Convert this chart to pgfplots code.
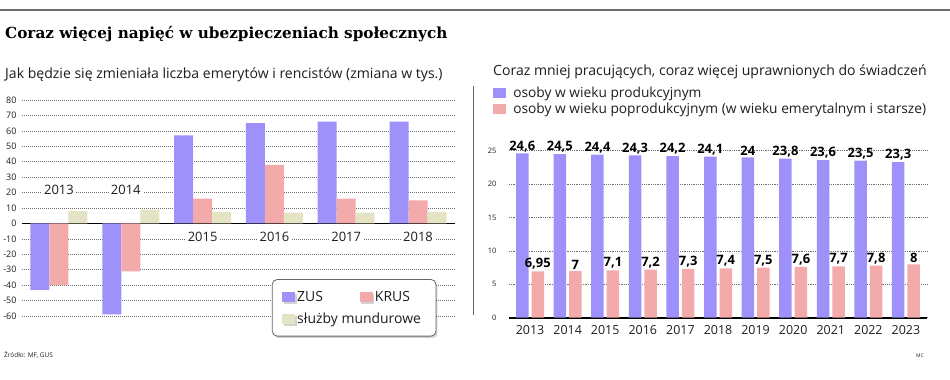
\documentclass[border=0pt]{standalone}
\usepackage{fontspec}
\setmainfont{Open Sans}
\newfontfamily\titlefont{DejaVu Serif}
\usepackage{pgfplots}
\pgfplotsset{compat=1.18}
\usetikzlibrary{shadows}
\definecolor{zus}{RGB}{158,146,250}
\definecolor{krus}{RGB}{243,170,171}
\definecolor{mund}{RGB}{228,227,196}
\definecolor{gridc}{RGB}{110,110,110}
\definecolor{txt}{RGB}{30,30,30}
\pgfplotsset{/pgfplots/ybar legend/.style={/pgfplots/legend image code/.code={\fill[##1,draw=none,sharp corners] (0bp,-5bp) rectangle (13bp,5bp);}}}
\begin{document}
\begin{tikzpicture}
\path[use as bounding box] (0bp,0bp) rectangle (950bp,-380bp);
\draw[gray!85!black, line width=1.3bp] (0bp,-10bp) -- (950bp,-10bp);
\draw[gray!80!black, line width=1bp] (473bp,-86bp) -- (473bp,-315bp);
\node[anchor=base west, inner sep=0, text=black, font=\titlefont\bfseries\fontsize{15.3}{18}\selectfont] at (5bp,-38bp) {Coraz więcej napięć w ubezpieczeniach społecznych};
\node[anchor=base west, inner sep=0, text=txt, font=\fontsize{14.1}{16}\selectfont] at (5bp,-78bp) {Jak będzie się zmieniała liczba emerytów i rencistów (zmiana w tys.)};
\node[anchor=base west, inner sep=0, text=txt, font=\fontsize{14.1}{16}\selectfont] at (493bp,-75bp) {Coraz mniej pracujących, coraz więcej uprawnionych do świadczeń};

% left chart
\begin{axis}[
  at={(22bp,-316bp)}, anchor=south west,
  scale only axis, width=433bp, height=216bp,
  xmin=-0.515, xmax=5.515, ymin=-60, ymax=80,
  ybar=0bp, bar width=19bp,
  axis line style={draw=none}, tick style={draw=none},
  xtick=\empty,
  ytick={-60,-50,...,80},
  ymajorgrids,
  grid style={gridc, line width=0.6bp, dash pattern=on 0.8bp off 1.2bp},
  extra y ticks={0}, extra y tick labels={},
  extra y tick style={grid style={black, solid, line width=1.3bp}},
  yticklabel style={font=\fontsize{9}{10}\selectfont, text=txt, xshift=-2bp},
  /pgf/number format/assume math mode=true,
  clip=false,
  legend columns=2,
  legend cell align=left,
  legend style={at={(rel axis cs:0.577,0.171)}, anchor=north west,
    draw=gray!80!black, line width=0.8bp, rounded corners=5bp, fill=white,
    drop shadow={shadow xshift=1.5bp, shadow yshift=-2bp, opacity=0.35},
    font=\fontsize{14}{16}\selectfont, text=txt,
    inner xsep=10bp, inner ysep=9.5bp, row sep=6bp,
    /tikz/every even column/.append style={column sep=35bp}},
]
\addplot[fill=zus, draw=none] coordinates {(0,-43) (1,-59) (2,57) (3,65) (4,66) (5,66)};
\addplot[fill=krus, draw=none] coordinates {(0,-40) (1,-31) (2,16) (3,38) (4,16) (5,15)};
\addplot[fill=mund, draw=none] coordinates {(0,8) (1,9) (2,7.5) (3,7) (4,7) (5,7.5)};
\legend{ZUS,KRUS\hspace*{14bp},{\makebox[0pt][l]{służby mundurowe}}}
\begin{scope}[every node/.style={fill=white, inner sep=2bp, text=txt, font=\fontsize{13}{15}\selectfont}]
\node at (axis cs:0,21.6) {2013};
\node at (axis cs:0.93,21.6) {2014};
\node at (axis cs:2,-8.7) {2015};
\node at (axis cs:3,-8.7) {2016};
\node at (axis cs:4,-8.7) {2017};
\node at (axis cs:5,-8.7) {2018};
\end{scope}
\end{axis}

% right chart
\begin{axis}[
  at={(509bp,-317.7bp)}, anchor=south west,
  scale only axis, width=418bp, height=167bp,
  xmin=-0.56, xmax=10.56, ymin=0, ymax=25,
  ybar=3bp, bar width=12.5bp,
  axis x line*=bottom, axis y line*=left,
  x axis line style={black, line width=1.6bp},
  y axis line style={draw=none},
  xtick={0,...,10},
  xticklabels={2013,2014,2015,2016,2017,2018,2019,2020,2021,2022,2023},
  x tick style={draw=none}, y tick style={draw=none},
  extra x ticks={-0.5,0.5,...,10.5}, extra x tick labels={},
  extra x tick style={tick align=inside, major tick length=4bp, tick style={draw=black, line width=1.3bp}},
  ytick={0,5,...,25},
  ymajorgrids,
  grid style={gridc, line width=0.7bp, dash pattern=on 0.8bp off 1bp},
  yticklabel style={font=\fontsize{7.5}{9}\selectfont, text=txt, xshift=-9bp},
  xticklabel style={font=\fontsize{12.5}{15}\selectfont, text=txt},
  /pgf/number format/assume math mode=true,
  /pgf/number format/use comma,
  nodes near coords,
  nodes near coords style={font=\bfseries\fontsize{13}{15}\selectfont, text=black, inner sep=1.5bp},
  clip=false,
  legend cell align=left,
  legend style={at={(rel axis cs:-0.038,1.395)}, anchor=north west, draw=none, fill=none,
    font=\fontsize{13.8}{16}\selectfont, text=txt, row sep=0bp, inner sep=0bp,
    /tikz/every odd column/.append style={column sep=5bp}},
]
\addplot[fill=zus, draw=none] coordinates {(0,24.6) (1,24.5) (2,24.4) (3,24.3) (4,24.2) (5,24.1) (6,24) (7,23.8) (8,23.6) (9,23.5) (10,23.3)};
\addplot[fill=krus, draw=none] coordinates {(0,6.95) (1,7) (2,7.1) (3,7.2) (4,7.3) (5,7.4) (6,7.5) (7,7.6) (8,7.7) (9,7.8) (10,8)};
\legend{osoby w wieku produkcyjnym, osoby w wieku poprodukcyjnym (w wieku emerytalnym i starsze)}
\end{axis}

\node[anchor=base west, inner sep=0, text=txt, font=\fontsize{6.5}{8}\selectfont] at (4bp,-357bp) {Źródło: MF, GUS};
\node[anchor=base east, inner sep=0, text=txt, font=\fontsize{5}{6}\selectfont] at (924bp,-357bp) {MC};
\end{tikzpicture}
\end{document}
